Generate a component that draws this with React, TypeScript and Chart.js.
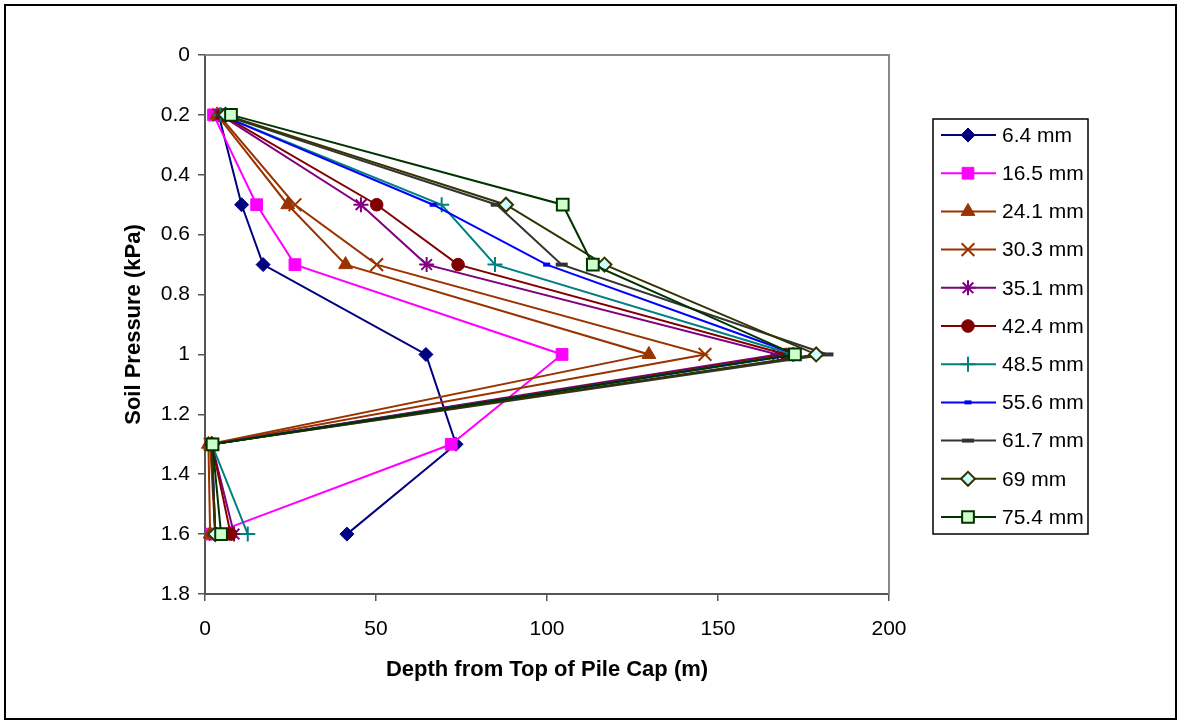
import React, { useEffect, useRef } from 'react';
import { Chart, registerables } from 'chart.js';
import { drawPoint } from 'chart.js/helpers';

Chart.register(...registerables);

// ---- Data ----
const pressureLevels = [0.2, 0.5, 0.7, 1.0, 1.3, 1.6];

const seriesLabels = [
  '6.4 mm', '16.5 mm', '24.1 mm', '30.3 mm', '35.1 mm', '42.4 mm',
  '48.5 mm', '55.6 mm', '61.7 mm', '69 mm', '75.4 mm',
];

const depth_6_4 = [4, 10.7, 17, 64.6, 73.4, 41.5];
const depth_16_5 = [2.5, 15.1, 26.3, 104.4, 72, 2];
const depth_24_1 = [3.5, 24.2, 41.1, 129.8, 1, 1.5];
const depth_30_3 = [4, 26.3, 50.2, 146.2, 1.5, 3];
const depth_35_1 = [4.5, 45.6, 64.8, 167.5, 2, 8.5];
const depth_42_4 = [5, 50.2, 74, 170, 2, 7.5];
const depth_48_5 = [4.5, 69.2, 84.8, 172, 2, 12.5];
const depth_55_6 = [4.5, 66.7, 99.9, 173, 2, 3];
const depth_61_7 = [5, 85.3, 104.3, 182, 2, 3];
const depth_69 = [6, 88, 116.8, 178.7, 2, 3];
const depth_75_4 = [7.6, 104.6, 113.4, 172.5, 2.2, 4.7];

const seriesValues = [
  depth_6_4, depth_16_5, depth_24_1, depth_30_3, depth_35_1, depth_42_4,
  depth_48_5, depth_55_6, depth_61_7, depth_69, depth_75_4,
];

const xTickValues = [0, 50, 100, 150, 200];
const xTickLabels = ['0', '50', '100', '150', '200'];
const yTickValues = [0, 0.2, 0.4, 0.6, 0.8, 1, 1.2, 1.4, 1.6, 1.8];
const yTickLabels = ['0', '0.2', '0.4', '0.6', '0.8', '1', '1.2', '1.4', '1.6', '1.8'];
const xTitle = 'Depth from Top of Pile Cap (m)';
const yTitle = 'Soil Pressure (kPa)';

// ---- Styles ----
const seriesStyles = [
  { color: '#000080', fill: '#000080', style: 'rectRot', r: 7, bw: 1 },
  { color: '#FF00FF', fill: '#FF00FF', style: 'rect', r: 8.3, bw: 1 },
  { color: '#993300', fill: '#993300', style: 'triangle', r: 8, bw: 1 },
  { color: '#993300', fill: '#993300', style: 'crossRot', r: 9, bw: 2 },
  { color: '#800080', fill: '#800080', style: 'star', r: 7.5, bw: 2 },
  { color: '#800000', fill: '#800000', style: 'circle', r: 6.3, bw: 1 },
  { color: '#008080', fill: '#008080', style: 'cross', r: 7.5, bw: 2 },
  { color: '#0000FF', fill: '#0000FF', style: 'line', r: 3.5, bw: 4 },
  { color: '#333333', fill: '#333333', style: 'line', r: 6, bw: 4 },
  { color: '#333300', fill: '#CCFFFF', style: 'rectRot', r: 7, bw: 2 },
  { color: '#003300', fill: '#CCFFCC', style: 'rect', r: 8.3, bw: 2 },
];

const FONT = '"Liberation Sans", Arial, sans-serif';
const W = 1181;
const H = 724;

const legendBox = { left: 933, top: 119, width: 155, height: 415 };
const legendFirstY = 135;
const legendStep = 38.2;

const framePlugin = {
  id: 'frame',
  beforeDraw(chart: any) {
    const ctx = chart.ctx;
    ctx.save();
    ctx.fillStyle = '#ffffff';
    ctx.fillRect(0, 0, chart.width, chart.height);
    ctx.restore();
  },
  beforeDatasetsDraw(chart: any) {
    const { left, top, right, bottom } = chart.chartArea;
    const ctx = chart.ctx;
    ctx.save();
    ctx.strokeStyle = '#888888';
    ctx.lineWidth = 2;
    ctx.beginPath();
    ctx.moveTo(left, top);
    ctx.lineTo(right, top);
    ctx.lineTo(right, bottom);
    ctx.stroke();
    ctx.restore();
  },
  afterDraw(chart: any) {
    const ctx = chart.ctx;
    ctx.save();
    ctx.strokeStyle = '#000000';
    ctx.lineWidth = 2;
    ctx.strokeRect(5, 5, chart.width - 10, chart.height - 10);
    ctx.restore();
  },
};

const legendPlugin = {
  id: 'customLegend',
  afterDraw(chart: any) {
    const ctx = chart.ctx;
    ctx.save();
    ctx.strokeStyle = '#000000';
    ctx.lineWidth = 1.5;
    ctx.strokeRect(legendBox.left, legendBox.top, legendBox.width, legendBox.height);
    seriesLabels.forEach((lab, i) => {
      const y = legendFirstY + i * legendStep;
      const st = seriesStyles[i];
      ctx.strokeStyle = st.color;
      ctx.lineWidth = 2;
      ctx.beginPath();
      ctx.moveTo(legendBox.left + 8, y);
      ctx.lineTo(legendBox.left + 63, y);
      ctx.stroke();
      ctx.fillStyle = st.fill;
      ctx.strokeStyle = st.color;
      ctx.lineWidth = st.bw;
      drawPoint(ctx, { pointStyle: st.style, radius: st.r, borderWidth: st.bw, rotation: 0 } as any, legendBox.left + 35, y);
      ctx.fillStyle = '#000000';
      ctx.font = `21px ${FONT}`;
      ctx.textBaseline = 'middle';
      ctx.textAlign = 'left';
      ctx.fillText(lab, legendBox.left + 69, y + 1);
    });
    ctx.restore();
  },
};

export default function App() {
  const canvasRef = useRef<HTMLCanvasElement | null>(null);

  useEffect(() => {
    if (!canvasRef.current) return;
    const n = seriesValues.length;
    const datasets = seriesValues.map((vals, i) => {
      const st = seriesStyles[i];
      return {
        label: seriesLabels[i],
        data: vals.map((v, j) => ({ x: v, y: pressureLevels[j] })),
        showLine: true,
        borderColor: st.color,
        backgroundColor: st.fill,
        borderWidth: 2,
        pointStyle: st.style,
        pointRadius: st.r,
        pointBorderWidth: st.bw,
        pointBorderColor: st.color,
        pointBackgroundColor: st.fill,
        clip: false,
        order: n - i,
      };
    });

    const chart = new Chart(canvasRef.current, {
      type: 'scatter',
      data: { datasets } as any,
      plugins: [framePlugin, legendPlugin],
      options: {
        responsive: false,
        animation: false,
        devicePixelRatio: 1,
        layout: { padding: { left: 117, top: 55, right: 292, bottom: 30 } },
        plugins: {
          legend: { display: false },
          tooltip: { enabled: false },
        },
        scales: {
          x: {
            type: 'linear',
            position: 'bottom',
            min: 0,
            max: 200,
            afterBuildTicks: (s: any) => {
              s.ticks = xTickValues.map((v) => ({ value: v }));
            },
            afterFit: (s: any) => {
              s.height = 100;
            },
            grid: {
              display: true,
              drawOnChartArea: false,
              drawTicks: true,
              tickLength: 7,
              color: '#555555',
              lineWidth: 1.5,
            },
            border: { display: true, color: '#555555', width: 2 },
            ticks: {
              color: '#000000',
              font: { family: FONT, size: 21 },
              padding: 16,
              maxRotation: 0,
              callback: (_v: any, idx: number) => xTickLabels[idx],
            },
            title: {
              display: true,
              text: xTitle,
              color: '#000000',
              font: { family: FONT, size: 22, weight: 'bold' },
              padding: { top: 4, bottom: 11 },
            },
          },
          y: {
            type: 'linear',
            reverse: true,
            min: 0,
            max: 1.8,
            afterBuildTicks: (s: any) => {
              s.ticks = yTickValues.map((v) => ({ value: v }));
            },
            afterFit: (s: any) => {
              s.width = 88;
            },
            grid: {
              display: true,
              drawOnChartArea: false,
              drawTicks: true,
              tickLength: 7,
              color: '#555555',
              lineWidth: 1.5,
            },
            border: { display: true, color: '#555555', width: 2 },
            ticks: {
              color: '#000000',
              font: { family: FONT, size: 21 },
              padding: 8,
              callback: (_v: any, idx: number) => yTickLabels[idx],
            },
            title: {
              display: true,
              text: yTitle,
              color: '#000000',
              font: { family: FONT, size: 22, weight: 'bold' },
              padding: { top: 4, bottom: 4 },
            },
          },
        },
      } as any,
    });
    return () => chart.destroy();
  }, []);

  return (
    <div style={{ position: 'fixed', left: 0, top: 0, width: W, height: H, background: '#fff' }}>
      <canvas ref={canvasRef} width={W} height={H} style={{ width: W, height: H, display: 'block' }} />
    </div>
  );
}
